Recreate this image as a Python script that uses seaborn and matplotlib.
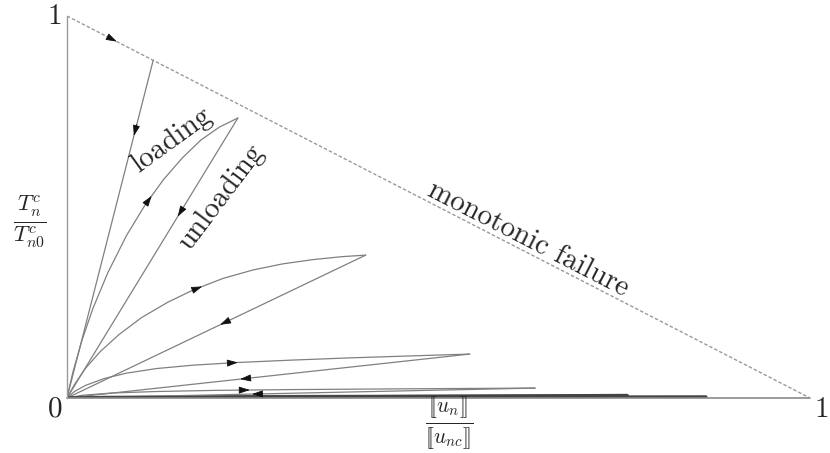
import numpy as np
import matplotlib
matplotlib.use("Agg")
import matplotlib.pyplot as plt
import seaborn as sns

# monotonic failure envelope (dashed)
envelope_x = [0.0, 1.0]
envelope_y = [1.0, 0.0]

# peaks of the loading/unloading cycles (on or under the envelope)
peak_x = [0.116, 0.230, 0.402, 0.542, 0.630, 0.754, 0.860]
peak_y = [0.884, 0.733, 0.374, 0.115, 0.026, 0.007, 0.003]

# loading branches (origin -> peak)
load2_x = [0.0, 0.008, 0.020, 0.035, 0.055, 0.080, 0.105, 0.130, 0.155, 0.180, 0.205, 0.230]
load2_y = [0.0, 0.068, 0.150, 0.235, 0.328, 0.425, 0.505, 0.572, 0.628, 0.675, 0.709, 0.733]
load3_x = [0.0, 0.010, 0.025, 0.045, 0.070, 0.100, 0.135, 0.170, 0.210, 0.250, 0.290, 0.330, 0.370, 0.402]
load3_y = [0.0, 0.035, 0.078, 0.122, 0.166, 0.210, 0.250, 0.283, 0.313, 0.335, 0.351, 0.362, 0.370, 0.374]
load4_x = [0.0, 0.010, 0.025, 0.050, 0.080, 0.120, 0.170, 0.230, 0.300, 0.380, 0.460, 0.542]
load4_y = [0.0, 0.017, 0.033, 0.051, 0.065, 0.077, 0.086, 0.093, 0.099, 0.105, 0.110, 0.115]
load5_x = [0.0, 0.020, 0.060, 0.120, 0.200, 0.300, 0.450, 0.630]
load5_y = [0.0, 0.007, 0.013, 0.017, 0.020, 0.022, 0.024, 0.026]
load6_x = [0.0, 0.050, 0.250, 0.500, 0.754]
load6_y = [0.0, 0.003, 0.005, 0.006, 0.007]
load7_x = [0.0, 0.050, 0.300, 0.600, 0.860]
load7_y = [0.0, 0.001, 0.002, 0.003, 0.003]

# arrow positions: (curve, x position, direction +1 = towards larger x)
arrow_curves = ["env", "un0", "ld2", "un1", "ld3", "un2", "ld4", "un3", "ld5", "un4"]
arrow_x = [0.067, 0.090, 0.114, 0.149, 0.182, 0.206, 0.230, 0.233, 0.246, 0.249]
arrow_dir = [1, -1, 1, -1, 1, -1, 1, -1, 1, -1]

sns.set_theme(style="white")
plt.rcParams["font.family"] = "serif"
plt.rcParams["font.serif"] = ["cmr10", "DejaVu Serif"]
plt.rcParams["mathtext.fontset"] = "cm"
plt.rcParams["axes.unicode_minus"] = False

fig = plt.figure(figsize=(8.3, 4.53), dpi=100)
ax = fig.add_axes([0.0807, 0.1214, 0.8952, 0.8433])

line_col = "#808080"
curves = {}
curves["env"] = (envelope_x, envelope_y)
loads = [(load2_x, load2_y), (load3_x, load3_y), (load4_x, load4_y),
         (load5_x, load5_y), (load6_x, load6_y), (load7_x, load7_y)]
for i, (lx, ly) in enumerate(loads):
    curves["ld%d" % (i + 2)] = (lx, ly)
for i in range(len(peak_x)):
    curves["un%d" % i] = ([0.0, peak_x[i]], [0.0, peak_y[i]])

# envelope
sns.lineplot(x=envelope_x, y=envelope_y, ax=ax, color="#9a9a9a", lw=1.0,
             linestyle=(0, (2.5, 1.5)), sort=False)

# loading curves
for i, (lx, ly) in enumerate(loads):
    dark = i >= 4
    sns.lineplot(x=lx, y=ly, ax=ax, sort=False,
                 color="#555555" if dark else line_col,
                 lw=1.6 if dark else 0.9)

# unloading lines
for i in range(len(peak_x)):
    dark = i >= 5
    sns.lineplot(x=[0.0, peak_x[i]], y=[0.0, peak_y[i]], ax=ax, sort=False,
                 color="#444444" if dark else line_col,
                 lw=2.2 if dark else 0.9)

# final failure along the axis
sns.lineplot(x=[0.0, 1.0], y=[0.0, 0.0], ax=ax, color="#8a8a8a", lw=1.2,
             sort=False, clip_on=False)

# arrow heads
for name, xa, d in zip(arrow_curves, arrow_x, arrow_dir):
    cx, cy = curves[name]
    ya = np.interp(xa, cx, cy)
    xb = xa - d * 0.004
    yb = np.interp(xb, cx, cy)
    ax.annotate("", xy=(xa, ya), xytext=(xb, yb),
                arrowprops=dict(arrowstyle="-|>,head_length=0.55,head_width=0.18",
                                color="#111111", lw=0.6,
                                shrinkA=0, shrinkB=0))

ax.set_xlim(0, 1)
ax.set_ylim(0, 1)
ax.set_xticks([])
ax.set_yticks([])
sns.despine(ax=ax, top=True, right=True)
ax.spines["left"].set_color("#9a9a9a")
ax.spines["left"].set_linewidth(1.0)
ax.spines["bottom"].set_visible(False)
ax.set_xlabel("")
ax.set_ylabel("")

fs = 21
ax.text(-0.016, 0.997, "1", fontsize=fs, ha="center", va="center")
ax.text(-0.016, -0.029, "0", fontsize=fs, ha="center", va="center")
ax.text(1.016, -0.031, "1", fontsize=fs, ha="center", va="center")

ax.text(-0.0498, 0.461, r"$\frac{T_n^c}{T_{n0}^c}$", fontsize=23,
        ha="center", va="center")
ax.text(0.515, -0.066, r"$\frac{[\![u_n]\!]}{[\![u_{nc}]\!]}$", fontsize=22,
        ha="center", va="center")

ax.text(0.1413, 0.675, "loading", fontsize=fs, rotation=36,
        ha="center", va="center", rotation_mode="anchor")
ax.text(0.207, 0.524, "unloading", fontsize=fs, rotation=53,
        ha="center", va="center", rotation_mode="anchor")
ax.text(0.620, 0.416, "monotonic failure", fontsize=fs, rotation=-27.2,
        ha="center", va="center", rotation_mode="anchor")

fig.savefig("out.png", dpi=100, facecolor="white")
